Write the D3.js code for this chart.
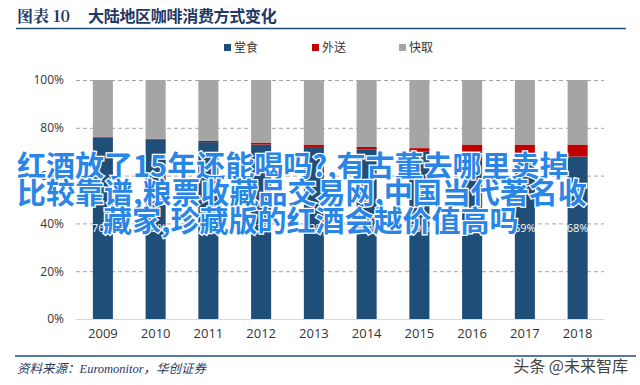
<!DOCTYPE html>
<html><head><meta charset="utf-8">
<script src="https://cdn.jsdelivr.net/npm/d3@7"></script>
<style>body{margin:0;background:#fff;}svg{display:block;font-family:"Noto Sans CJK SC","Noto Sans",sans-serif;}</style>
</head><body><svg id="c" width="640" height="385"></svg>
<script>
const years = ["2009","2010","2011","2012","2013","2014","2015","2016","2017","2018"];
const dineIn = [76,75,74,73,72,71,70,70,69,68];
const delivery = [0.3,0.4,0.5,0.8,1.0,1.0,1.5,3.0,4.0,5.0];
const takeaway = years.map((y,i)=>100-dineIn[i]-delivery[i]);
const seriesNames = ["堂食","外送","快取"];
const seriesColors = ["#1f4e79","#c00000","#a5a5a5"];
const yTicks = [0,20,40,60,80,100];
const overlayLines = ["红酒放了15年还能喝吗?,有古董去哪里卖掉","比较靠谱,粮票收藏品交易网,中国当代著名收","藏家,珍藏版的红酒会越价值高吗"];

const svg = d3.select("#c");
const x = d3.scaleBand().domain(years).range([76.5,604]).paddingInner(0.62).paddingOuter(0.31);
const y = d3.scaleLinear().domain([0,100]).range([319,80]);

// title
svg.append("text").attr("x",17).attr("y",22).attr("fill","#1f3864").attr("font-size",16).attr("font-weight","bold")
  .attr("font-family","'Noto Serif CJK SC','Noto Sans CJK SC',serif").text("图表 10");
svg.append("text").attr("x",88).attr("y",22).attr("fill","#1f3864").attr("font-size",16).attr("font-weight","bold")
  .attr("letter-spacing",-0.3).text("大陆地区咖啡消费方式变化");
svg.append("line").attr("x1",16).attr("x2",626).attr("y1",28.5).attr("y2",28.5).attr("stroke","#1f4e79").attr("stroke-width",1.5);

// legend
const legX = [224,312,399];
seriesNames.forEach((n,i)=>{
  svg.append("rect").attr("x",legX[i]).attr("y",44).attr("width",7).attr("height",7).attr("fill",seriesColors[i]);
  svg.append("text").attr("x",legX[i]+10).attr("y",52).attr("font-size",12).attr("fill","#333").text(n);
});

// grid
const yAxis = d3.axisLeft(y).tickValues(yTicks).tickFormat(d=>d+"%").tickSize(0).tickPadding(0);
const gy = svg.append("g").attr("transform","translate(64,0)").call(yAxis);
gy.select(".domain").remove();
gy.selectAll("text").attr("font-size",12).attr("fill","#333").attr("font-family","'Open Sans','Noto Sans',sans-serif");
svg.append("g").selectAll("line").data(yTicks.filter(d=>d>0)).join("line")
  .attr("x1",76).attr("x2",604).attr("y1",d=>y(d)+0.5).attr("y2",d=>y(d)+0.5)
  .attr("stroke","#a6a6a6").attr("stroke-dasharray","4,3");

// stacked bars
const data = years.map((yr,i)=>({year:yr, a:dineIn[i], b:delivery[i], c:takeaway[i]}));
const stack = d3.stack().keys(["a","b","c"])(data);
svg.append("g").selectAll("g").data(stack).join("g").attr("fill",(d,i)=>seriesColors[i])
  .selectAll("rect").data(d=>d).join("rect")
  .attr("x",d=>x(d.data.year)).attr("width",x.bandwidth())
  .attr("y",d=>y(d[1])).attr("height",d=>y(d[0])-y(d[1]));

svg.append("line").attr("x1",76).attr("x2",604).attr("y1",319.5).attr("y2",319.5).attr("stroke","#d9d9d9");

// value labels
svg.append("g").selectAll("text").data(data).join("text")
  .attr("x",d=>x(d.year)+x.bandwidth()/2).attr("y",232).attr("text-anchor","middle")
  .attr("font-size",11).attr("fill","#fff").attr("font-family","'Open Sans','Noto Sans',sans-serif")
  .text(d=>d.a+"%");

// x axis
const gx = svg.append("g").attr("transform","translate(0,319)").call(d3.axisBottom(x).tickSize(0).tickPadding(10));
gx.select(".domain").remove();
gx.selectAll("text").attr("font-size",13).attr("fill","#333").attr("font-family","'Open Sans','Noto Sans',sans-serif");

// footer
svg.append("line").attr("x1",15).attr("x2",636).attr("y1",356).attr("y2",356).attr("stroke","#1f4e79").attr("stroke-width",1.5);
svg.append("text").attr("x",17).attr("y",373).attr("font-size",12.5).attr("fill","#1f3864").attr("font-style","italic")
  .attr("font-family","'Liberation Serif','Noto Sans CJK SC',serif").text("资料来源：Euromonitor，华创证券");
svg.append("text").attr("x",628).attr("y",372).attr("text-anchor","end").attr("font-size",16).attr("fill","#444")
  .attr("stroke","#fff").attr("stroke-width",2).attr("paint-order","stroke").text("头条 @未来智库");

// overlay
const ox = [17,17,103], oy = [177,204,232];
svg.append("g").selectAll("text").data(overlayLines).join("text")
  .attr("x",(d,i)=>ox[i]).attr("y",(d,i)=>oy[i]).attr("font-size",29).attr("font-weight","bold")
  .attr("fill","#2a86e6").attr("stroke","#fff").attr("stroke-width",2.5).attr("paint-order","stroke")
  .text(d=>d);
</script></body></html>
